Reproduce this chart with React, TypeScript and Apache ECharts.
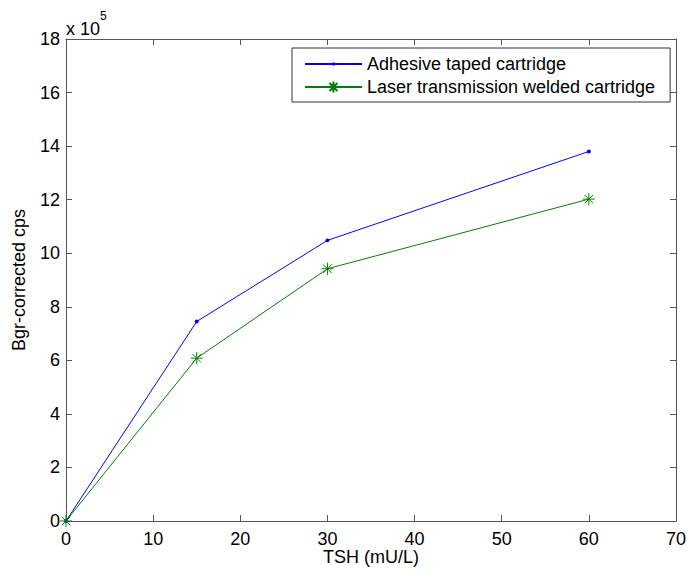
import React, { useEffect, useRef } from "react";
import * as echarts from "echarts";

const xValues = [0, 15, 30, 60];
const adhesiveValues = [0, 7.45, 10.48, 13.8]; // x 10^5
const laserValues = [0, 6.08, 9.42, 12.02]; // x 10^5
const seriesNames = ["Adhesive taped cartridge", "Laser transmission welded cartridge"];
const SCALE = 1e5;

// small dot padded inside a larger box (moveTo points widen the bounds)
const dot = "path://M-3,-3M3,3M0.9,0A0.9,0.9,0,1,1,-0.9,0A0.9,0.9,0,1,1,0.9,0Z";
const asterisk =
  "path://M0,-1L0,1M-1,0L1,0M-0.7071,-0.7071L0.7071,0.7071M-0.7071,0.7071L0.7071,-0.7071";

export default function App() {
  const ref = useRef<HTMLDivElement>(null);
  useEffect(() => {
    if (!ref.current) return;
    const chart = echarts.init(ref.current, undefined, { renderer: "svg" });
    const axisColor = "#555";
    const font = "'Liberation Sans', Arial, sans-serif";
    const common = {
      axisLine: { show: true, onZero: false, lineStyle: { color: axisColor, width: 1 } },
      axisTick: { show: true, inside: true, length: 6, lineStyle: { color: axisColor } },
      splitLine: { show: false },
    };
    chart.setOption({
      animation: false,
      backgroundColor: "#fff",
      textStyle: { fontFamily: font },
      grid: { left: 66, top: 39, right: 12, bottom: 48, outerBoundsMode: "none", containLabel: false },
      xAxis: [
        {
          type: "value",
          min: 0,
          max: 70,
          interval: 10,
          position: "bottom",
          ...common,
          axisLabel: { color: "#000", fontSize: 18, margin: 9, fontFamily: font },
          name: "TSH (mU/L)",
          nameLocation: "middle",
          nameGap: 27,
          nameMoveOverlap: false,
          nameTextStyle: { color: "#000", fontSize: 18, fontFamily: font, verticalAlign: "top" },
        },
        {
          type: "value",
          min: 0,
          max: 70,
          interval: 10,
          position: "top",
          ...common,
          axisLabel: { show: false },
        },
      ],
      yAxis: [
        {
          type: "value",
          min: 0,
          max: 18 * SCALE,
          interval: 2 * SCALE,
          position: "left",
          ...common,
          axisLabel: {
            color: "#000",
            fontSize: 18,
            margin: 6,
            fontFamily: font,
            formatter: (v: number) => String(Math.round(v / SCALE)),
          },
          name: "Bgr-corrected cps",
          nameLocation: "middle",
          nameGap: 38,
          nameMoveOverlap: false,
          nameTextStyle: { color: "#000", fontSize: 18, fontFamily: font },
        },
        {
          type: "value",
          min: 0,
          max: 18 * SCALE,
          interval: 2 * SCALE,
          position: "right",
          ...common,
          axisLabel: { show: false },
        },
      ],
      legend: {
        left: 292,
        top: 48,
        orient: "vertical",
        backgroundColor: "#fff",
        borderColor: "#333",
        borderWidth: 1,
        padding: [7, 15, 6, 12],
        itemGap: 5,
        itemWidth: 57,
        itemHeight: 14,
        textStyle: { color: "#000", fontSize: 18, fontFamily: font },
        data: seriesNames,
      },
      graphic: [
        {
          type: "text",
          left: 66,
          top: 10,
          style: {
            text: "{a|x 10}{b|5}",
            rich: {
              a: { fontSize: 18, fontFamily: font, fill: "#000", padding: [10, 0, 0, 0] },
              b: { fontSize: 12, fontFamily: font, fill: "#000", verticalAlign: "top" },
            },
          },
        },
      ],
      series: [
        {
          name: seriesNames[0],
          type: "line",
          data: xValues.map((x, i) => [x, adhesiveValues[i] * SCALE]),
          symbol: dot,
          symbolSize: 13,
          showAllSymbol: true,
          lineStyle: { color: "#0000ff", width: 1 },
          itemStyle: { color: "#0000ff" },
        },
        {
          name: seriesNames[1],
          type: "line",
          data: xValues.map((x, i) => [x, laserValues[i] * SCALE]),
          symbol: asterisk,
          symbolSize: 12,
          showAllSymbol: true,
          lineStyle: { color: "#008000", width: 1 },
          itemStyle: { color: "#008000", borderColor: "#008000", borderWidth: 1 },
        },
      ],
    });
    return () => chart.dispose();
  }, []);
  return (
    <div
      ref={ref}
      style={{ position: "absolute", left: 0, top: 0, width: 688, height: 569 }}
    />
  );
}
